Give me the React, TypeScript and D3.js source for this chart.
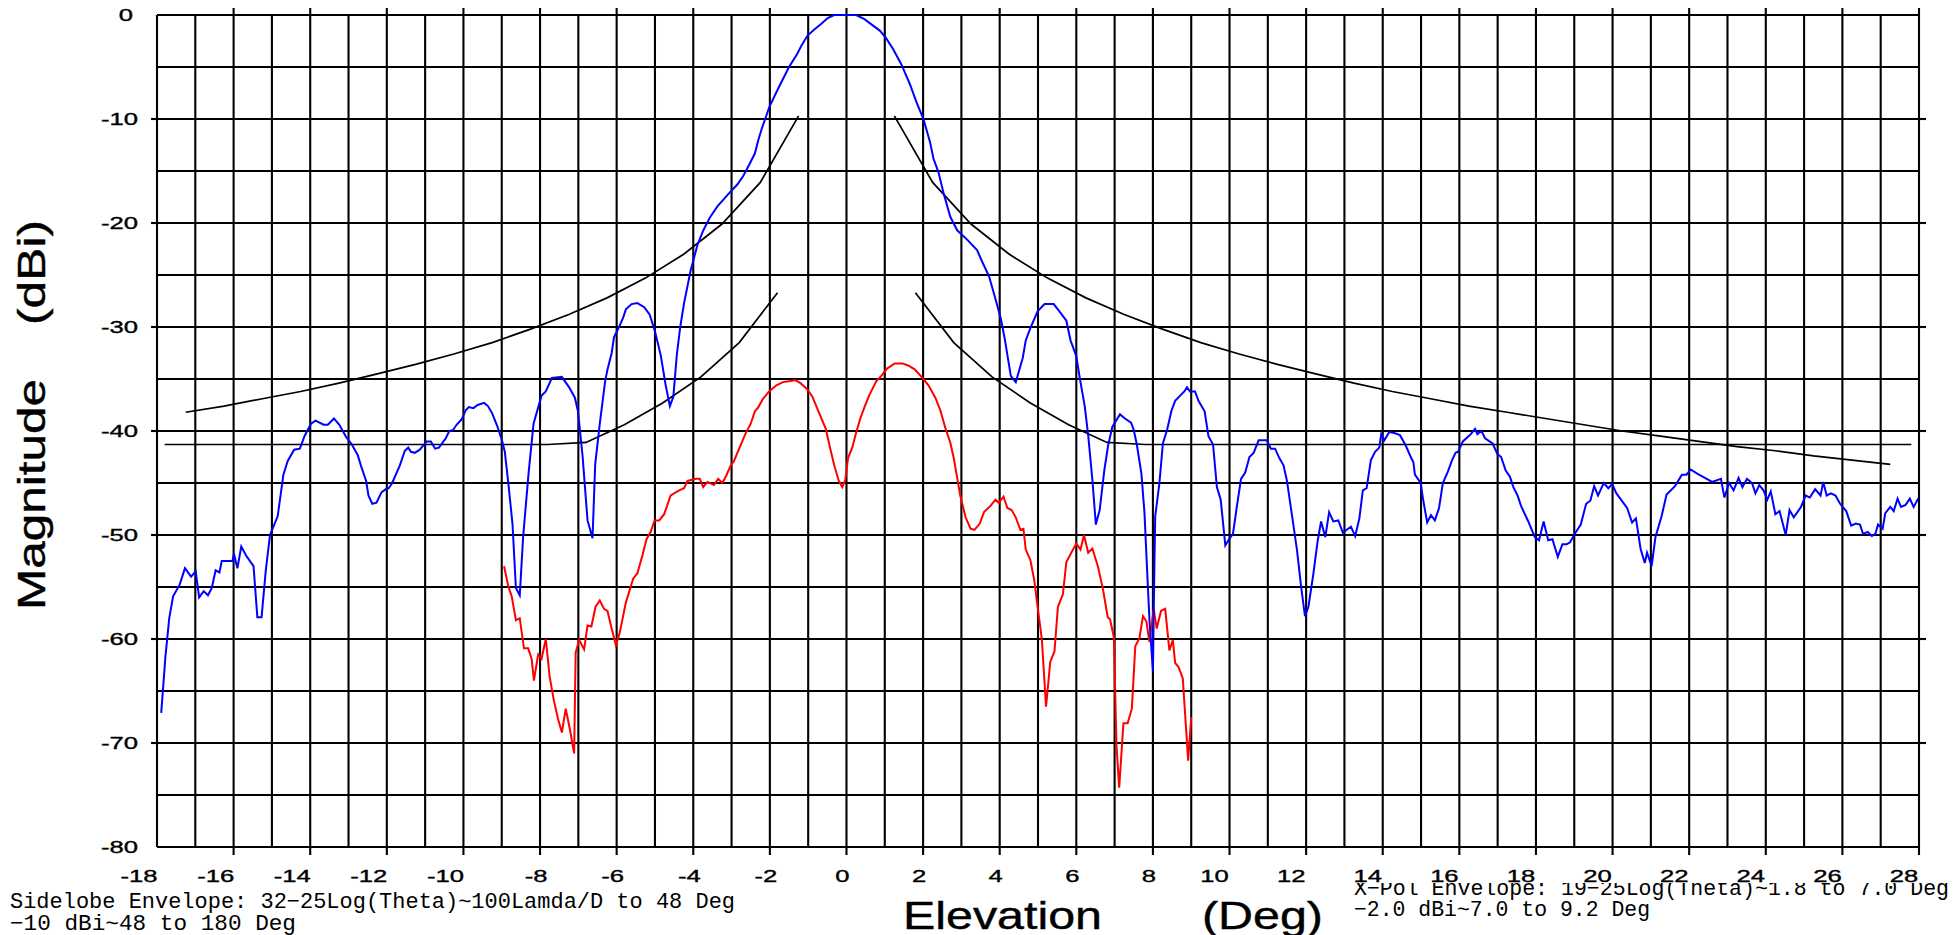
import * as d3 from 'd3';

const W = 1953;
const H = 935;

const xTicks = d3.range(-18, 29, 2);
const yTicks = d3.range(0, -81, -10);

// co-polar pattern (blue) [deg, dB]
const coPol: [number, number][] = [
  [-17.89, -67.1], [-17.78, -61.7], [-17.68, -58.0], [-17.58, -55.9], [-17.41, -54.8], [-17.27, -53.2],
  [-17.11, -54.0], [-16.99, -53.5], [-16.9, -56.0], [-16.78, -55.4], [-16.67, -55.8], [-16.57, -55.1],
  [-16.47, -53.4], [-16.37, -53.6], [-16.31, -52.5], [-16.03, -52.5], [-15.99, -51.8], [-15.9, -53.2],
  [-15.8, -51.1], [-15.67, -52.0], [-15.48, -53.0], [-15.38, -57.9], [-15.27, -57.9], [-15.16, -53.4],
  [-15.05, -50.0], [-14.85, -48.2], [-14.7, -44.2], [-14.59, -42.9], [-14.42, -41.8], [-14.27, -41.7],
  [-14.15, -40.5], [-13.98, -39.3], [-13.86, -39.0], [-13.65, -39.4], [-13.54, -39.4], [-13.38, -38.8],
  [-13.24, -39.4], [-13.06, -40.6], [-12.93, -41.2], [-12.76, -42.3], [-12.67, -43.4], [-12.54, -44.8],
  [-12.48, -46.2], [-12.38, -47.0], [-12.27, -46.9], [-12.14, -45.9], [-12.03, -45.6], [-11.95, -45.5],
  [-11.86, -45.0], [-11.66, -43.3], [-11.53, -41.9], [-11.44, -41.6], [-11.37, -42.0], [-11.27, -42.1],
  [-11.14, -41.8], [-10.96, -41.0], [-10.85, -41.0], [-10.74, -41.7], [-10.64, -41.6], [-10.46, -40.7],
  [-10.37, -40.0], [-10.27, -39.9], [-10.18, -39.4], [-10.05, -38.9], [-9.94, -38.0], [-9.86, -37.7],
  [-9.74, -37.8], [-9.63, -37.5], [-9.46, -37.3], [-9.36, -37.6], [-9.25, -38.3], [-9.12, -39.5],
  [-9.0, -40.8], [-8.92, -42.0], [-8.82, -45.3], [-8.72, -48.9], [-8.63, -55.1], [-8.53, -55.8],
  [-8.44, -50.1], [-8.3, -44.1], [-8.17, -39.3], [-7.96, -36.6], [-7.85, -36.2], [-7.69, -34.9],
  [-7.43, -34.8], [-7.24, -35.8], [-7.09, -36.8], [-7.01, -38.1], [-6.89, -42.4], [-6.76, -48.6],
  [-6.63, -50.3], [-6.56, -43.2], [-6.44, -39.3], [-6.3, -35.2], [-6.24, -34.1], [-6.13, -32.5],
  [-6.07, -31.0], [-5.95, -30.1], [-5.83, -29.1], [-5.76, -28.3], [-5.61, -27.8], [-5.46, -27.7],
  [-5.28, -28.1], [-5.14, -28.8], [-5.0, -30.4], [-4.85, -32.7], [-4.72, -35.6], [-4.61, -37.6],
  [-4.52, -36.7], [-4.43, -32.7], [-4.34, -30.0], [-4.24, -27.7], [-4.07, -24.6], [-3.89, -22.1],
  [-3.75, -20.8], [-3.57, -19.5], [-3.37, -18.4], [-3.08, -17.2], [-2.85, -16.3], [-2.7, -15.5],
  [-2.54, -14.4], [-2.39, -13.3], [-2.3, -12.0], [-2.2, -10.8], [-2.01, -8.8], [-1.76, -6.9],
  [-1.5, -5.0], [-1.28, -3.7], [-1.17, -2.9], [-1.02, -2.0], [-0.84, -1.4], [-0.67, -0.9],
  [-0.49, -0.3], [-0.32, 0], [0.25, 0], [0.47, -0.4], [0.65, -0.9], [0.87, -1.5], [1.03, -2.2],
  [1.22, -3.3], [1.44, -4.8], [1.66, -6.7], [1.83, -8.4], [2.01, -10.0], [2.18, -12.2], [2.27, -13.8],
  [2.4, -15.1], [2.54, -17.2], [2.71, -19.4], [2.89, -20.7], [3.15, -21.6], [3.41, -22.6], [3.54, -23.7],
  [3.72, -25.1], [3.89, -27.3], [4.03, -29.2], [4.13, -31.1], [4.29, -34.7], [4.42, -35.3], [4.6, -33.0],
  [4.68, -31.3], [4.8, -30.1], [4.99, -28.5], [5.17, -27.8], [5.41, -27.8], [5.56, -28.5], [5.74, -29.4],
  [5.85, -31.3], [6.0, -32.8], [6.09, -34.9], [6.22, -37.6], [6.31, -40.4], [6.42, -44.7], [6.51, -49.0],
  [6.61, -47.6], [6.73, -43.8], [6.83, -41.4], [6.94, -39.6], [7.14, -38.4], [7.27, -38.8], [7.43, -39.2],
  [7.5, -39.9], [7.58, -41.3], [7.7, -44.1], [7.78, -47.9], [7.84, -52.7], [7.91, -58.2], [8.0, -63.1],
  [8.04, -52.7], [8.06, -48.2], [8.17, -45.0], [8.26, -41.2], [8.37, -39.9], [8.48, -38.1], [8.58, -37.1],
  [8.71, -36.6], [8.82, -36.2], [8.89, -35.8], [8.97, -36.2], [9.1, -36.2], [9.19, -37.1], [9.35, -38.1],
  [9.45, -40.5], [9.57, -41.3], [9.67, -45.4], [9.77, -46.6], [9.89, -51.0], [9.97, -50.5], [10.09, -49.9],
  [10.19, -47.3], [10.3, -44.6], [10.41, -44.0], [10.52, -42.5], [10.63, -42.1], [10.76, -40.9],
  [10.97, -40.9], [11.08, -41.7], [11.19, -41.7], [11.3, -42.6], [11.41, -43.3], [11.5, -44.8],
  [11.65, -48.6], [11.76, -51.4], [11.87, -55.0], [11.97, -57.8], [12.06, -56.9], [12.19, -53.7],
  [12.3, -50.6], [12.39, -48.7], [12.5, -50.2], [12.6, -47.8], [12.71, -48.7], [12.84, -48.6],
  [12.96, -49.8], [13.06, -49.5], [13.17, -49.2], [13.28, -50.1], [13.39, -48.4], [13.48, -45.7],
  [13.58, -45.5], [13.69, -42.8], [13.8, -42.0], [13.91, -41.6], [13.96, -40.3], [14.04, -40.9],
  [14.17, -40.1], [14.3, -40.2], [14.45, -40.4], [14.6, -41.4], [14.72, -42.4], [14.8, -43.0],
  [14.84, -44.2], [14.99, -45.0], [15.05, -46.5], [15.16, -48.8], [15.26, -48.1], [15.36, -48.6],
  [15.47, -47.4], [15.57, -45.0], [15.7, -43.9], [15.81, -42.8], [15.9, -42.1], [15.97, -42.0],
  [16.09, -41.0], [16.3, -40.3], [16.41, -39.8], [16.47, -40.3], [16.58, -40.0], [16.67, -40.7],
  [16.87, -41.2], [16.99, -42.2], [17.09, -42.5], [17.21, -43.8], [17.32, -44.4], [17.41, -45.4],
  [17.52, -46.2], [17.61, -47.2], [17.8, -48.7], [17.97, -50.2], [18.08, -50.5], [18.2, -48.7],
  [18.32, -50.5], [18.43, -50.4], [18.57, -52.1], [18.69, -50.9], [18.8, -50.9], [18.89, -50.7],
  [19.01, -49.9], [19.17, -49.0], [19.31, -47.0], [19.42, -46.7], [19.52, -45.3], [19.62, -46.2],
  [19.77, -45.0], [19.89, -45.5], [19.99, -45.1], [20.1, -46.0], [20.38, -47.4], [20.51, -48.8],
  [20.61, -48.4], [20.73, -51.3], [20.84, -52.7], [20.9, -51.7], [21.02, -53.0], [21.12, -50.2],
  [21.28, -48.2], [21.41, -46.1], [21.63, -45.3], [21.81, -44.2], [21.93, -44.2], [22.04, -43.7],
  [22.21, -44.1], [22.41, -44.5], [22.6, -44.9], [22.83, -44.6], [22.92, -46.4], [23.04, -45.0],
  [23.16, -45.7], [23.29, -44.5], [23.39, -45.4], [23.51, -44.6], [23.64, -45.0], [23.73, -46.0],
  [23.83, -45.2], [23.94, -45.7], [24.04, -46.6], [24.13, -45.8], [24.25, -48.0], [24.36, -47.7],
  [24.52, -50.0], [24.62, -47.6], [24.73, -48.3], [24.92, -47.3], [25.04, -46.2], [25.15, -46.4],
  [25.29, -45.6], [25.43, -46.2], [25.5, -44.9], [25.59, -46.2], [25.7, -46.0], [25.82, -46.2],
  [25.94, -47.0], [26.1, -47.7], [26.23, -49.1], [26.35, -48.9], [26.46, -49.0], [26.54, -49.9],
  [26.66, -49.7], [26.77, -50.1], [26.86, -49.9], [26.93, -49.0], [27.05, -49.4], [27.12, -47.9],
  [27.25, -47.3], [27.34, -47.7], [27.44, -46.5], [27.53, -47.3], [27.65, -47.1], [27.76, -46.5],
  [27.86, -47.3], [27.98, -46.5],
];

// cross-polar pattern (red) [deg, dB]
const crossPol: [number, number][] = [
  [-8.94, -53.0], [-8.83, -54.9], [-8.74, -55.9], [-8.63, -58.2], [-8.53, -58.0], [-8.42, -60.9],
  [-8.31, -60.9], [-8.22, -61.9], [-8.16, -64.0], [-8.05, -61.5], [-7.96, -61.9], [-7.85, -60.0],
  [-7.75, -63.6], [-7.64, -65.9], [-7.53, -67.7], [-7.43, -69.0], [-7.33, -66.7], [-7.22, -68.7],
  [-7.11, -71.0], [-7.07, -61.3], [-6.98, -60.1], [-6.85, -61.0], [-6.76, -58.7], [-6.66, -58.8],
  [-6.55, -56.9], [-6.44, -56.3], [-6.33, -57.1], [-6.24, -57.3], [-6.13, -59.0], [-6.02, -60.6],
  [-5.92, -59.4], [-5.76, -56.5], [-5.57, -54.2], [-5.46, -53.7], [-5.33, -52.0], [-5.22, -50.4],
  [-5.11, -49.7], [-5.01, -48.6], [-4.89, -48.6], [-4.76, -48.0], [-4.59, -46.2], [-4.37, -45.7],
  [-4.24, -45.5], [-4.15, -44.8], [-3.93, -44.6], [-3.83, -44.6], [-3.74, -45.4], [-3.63, -44.9],
  [-3.46, -45.2], [-3.35, -44.6], [-3.24, -45.0], [-3.14, -44.3], [-3.02, -43.3], [-2.94, -42.9],
  [-2.79, -41.6], [-2.63, -40.2], [-2.5, -39.3], [-2.39, -38.1], [-2.3, -37.7], [-2.18, -36.9],
  [-2.02, -36.2], [-1.83, -35.6], [-1.66, -35.3], [-1.46, -35.2], [-1.34, -35.1], [-1.2, -35.4],
  [-1.02, -36.0], [-0.89, -36.7], [-0.71, -38.3], [-0.54, -39.8], [-0.43, -41.6], [-0.32, -43.3],
  [-0.2, -44.8], [-0.11, -45.4], [-0.03, -44.7], [0.04, -42.6], [0.15, -41.6], [0.25, -40.2],
  [0.36, -38.8], [0.47, -37.7], [0.59, -36.6], [0.78, -35.2], [0.91, -34.7], [1.06, -34.0],
  [1.26, -33.5], [1.46, -33.5], [1.61, -33.7], [1.79, -34.1], [1.96, -34.8], [2.14, -35.6],
  [2.32, -36.8], [2.45, -38.0], [2.58, -39.7], [2.71, -41.1], [2.8, -42.6], [2.89, -44.5],
  [2.97, -46.2], [3.11, -48.3], [3.24, -49.4], [3.34, -49.5], [3.48, -48.9], [3.59, -47.8],
  [3.76, -47.2], [3.89, -46.6], [3.98, -46.9], [4.1, -46.3], [4.2, -47.4], [4.31, -47.6],
  [4.42, -48.3], [4.54, -49.5], [4.62, -49.4], [4.68, -51.4], [4.8, -52.4], [4.9, -54.3],
  [4.99, -56.9], [5.1, -60.0], [5.21, -66.5], [5.32, -62.2], [5.43, -61.2], [5.52, -56.9],
  [5.65, -55.7], [5.74, -52.6], [5.87, -51.7], [6.0, -50.8], [6.11, -51.4], [6.2, -50.0],
  [6.31, -51.7], [6.42, -51.3], [6.57, -53.1], [6.7, -55.3], [6.82, -57.9], [6.88, -58.1],
  [6.98, -59.8], [7.05, -70.3], [7.12, -74.3], [7.23, -68.1], [7.34, -68.1], [7.45, -66.7],
  [7.54, -60.7], [7.65, -59.9], [7.74, -57.8], [7.83, -58.3], [7.91, -60.3], [8.02, -57.1],
  [8.1, -59.0], [8.21, -57.3], [8.32, -57.1], [8.43, -61.1], [8.52, -60.1], [8.58, -62.3],
  [8.67, -62.7], [8.78, -63.8], [8.92, -71.7], [9.0, -67.5],
];

// sidelobe envelope (upper black lines)
const sidelobeEnvLeft: [number, number][] = [
  [-17.25, -38.2], [-16.25, -37.6], [-15.25, -36.9], [-14.25, -36.2], [-13.25, -35.4], [-12.25, -34.5],
  [-11.25, -33.6], [-10.25, -32.6], [-9.25, -31.5], [-8.25, -30.2], [-7.25, -28.8], [-6.25, -27.2],
  [-5.25, -25.3], [-4.25, -23.0], [-3.25, -20.1], [-2.25, -16.1], [-1.25, -9.7],
];
const sidelobeEnvRight: [number, number][] = [
  [1.25, -9.7], [2.25, -16.1], [3.25, -20.1], [4.25, -23.0], [5.25, -25.3], [6.25, -27.2],
  [7.25, -28.8], [8.25, -30.2], [9.25, -31.5], [10.25, -32.6], [11.25, -33.6], [12.25, -34.5],
  [13.25, -35.4], [14.25, -36.2], [15.25, -36.9], [16.25, -37.6], [17.25, -38.2], [18.25, -38.8],
  [19.25, -39.4], [20.25, -40.0], [21.25, -40.5], [22.25, -41.0], [23.25, -41.5], [24.25, -41.9],
  [25.25, -42.4], [26.25, -42.8], [27.25, -43.2],
];

// x-pol envelope (lower black lines)
const xpolEnvLeft: [number, number][] = [
  [-17.8, -41.3], [-7.8, -41.3], [-6.8, -41.1], [-5.8, -39.4], [-4.8, -37.3], [-3.8, -34.8],
  [-2.8, -31.5], [-1.8, -26.7],
];
const xpolEnvRight: [number, number][] = [
  [1.8, -26.7], [2.8, -31.5], [3.8, -34.8], [4.8, -37.3], [5.8, -39.4], [6.8, -41.1],
  [7.8, -41.3], [27.8, -41.3],
];

const sidelobeNote = ['Sidelobe Envelope: 32\u221225Log(Theta)~100Lamda/D to 48 Deg', '\u221210 dBi~48 to 180 Deg'];
const xpolNote = ['X\u2212Pol Envelope: 19\u221225Log(Theta)~1.8 to 7.0 Deg', '\u22122.0 dBi~7.0 to 9.2 Deg'];

const SANS = '"Liberation Sans", Arial, sans-serif';
const MONO = '"Liberation Mono", "DejaVu Sans Mono", monospace';

export default function App() {
  const x = d3.scaleLinear().domain([-18, 28]).range([157, 1919]);
  const y = d3.scaleLinear().domain([0, -80]).range([15, 847]);
  const line = d3.line<[number, number]>().x((d) => x(d[0])).y((d) => y(d[1]));

  const [x0, x1] = x.range();
  const [y0, y1] = y.range();

  return (
    <svg width={W} height={H} style={{ position: 'absolute', left: 0, top: 0, background: '#fff' }}>
      <defs>
        <clipPath id="xpol-clip">
          <rect x={1300} y={883} width={660} height={60} />
        </clipPath>
      </defs>

      {/* grid */}
      <g stroke="#000" strokeWidth={2.1}>
        {d3.range(-18, 29, 1).map((t) => (
          <line key={'v' + t} x1={x(t)} x2={x(t)} y1={y0} y2={y1} />
        ))}
        {d3.range(0, -81, -5).map((v) => (
          <line key={'h' + v} x1={x0} x2={x1} y1={y(v)} y2={y(v)} />
        ))}
        {xTicks.filter((t) => t > -18).map((t) => (
          <g key={'xt' + t}>
            <line x1={x(t)} x2={x(t)} y1={y0 - 7} y2={y0} />
            <line x1={x(t)} x2={x(t)} y1={y1} y2={y1 + 8} />
          </g>
        ))}
        {yTicks.filter((v) => v < 0 && v > -80).map((v) => (
          <g key={'yt' + v}>
            <line x1={x0 - 6} x2={x0} y1={y(v)} y2={y(v)} />
            <line x1={x1} x2={x1 + 7} y1={y(v)} y2={y(v)} />
          </g>
        ))}
      </g>

      {/* envelopes */}
      <g fill="none" stroke="#000" strokeWidth={1.7}>
        {[sidelobeEnvLeft, sidelobeEnvRight, xpolEnvLeft, xpolEnvRight].map((d, i) => (
          <path key={i} d={line(d) ?? ''} />
        ))}
      </g>

      <path d={line(crossPol) ?? ''} fill="none" stroke="#ff0000" strokeWidth={2} />
      <path d={line(coPol) ?? ''} fill="none" stroke="#0000ff" strokeWidth={2} />

      {/* tick labels */}
      <g fontFamily={SANS} fontSize={16} fill="#000" stroke="#000" strokeWidth={0.35}>
        {yTicks.map((v) => (
          <text key={'yl' + v} textAnchor="end" transform={`translate(${v === 0 ? 133 : 138},${y(v) + 6}) scale(1.6,1)`}>
            {v}
          </text>
        ))}
        {xTicks.map((t) => {
          const off = Math.abs(t) < 10 ? -4 : t < 0 ? -18 : -15;
          return (
            <text key={'xl' + t} textAnchor="middle" transform={`translate(${x(t) + off},${882}) scale(1.6,1)`}>
              {t}
            </text>
          );
        })}
      </g>

      {/* axis titles */}
      <g fontFamily={SANS} fontSize={38} fill="#000" stroke="#000" strokeWidth={0.4}>
        <text x={903} y={929} textLength={199} lengthAdjust="spacingAndGlyphs">Elevation</text>
        <text x={1202} y={929} textLength={121} lengthAdjust="spacingAndGlyphs">(Deg)</text>
        <text transform="translate(45,610) rotate(-90)" textLength={231} lengthAdjust="spacingAndGlyphs">Magnitude</text>
        <text transform="translate(45,325) rotate(-90)" textLength={105} lengthAdjust="spacingAndGlyphs">(dBi)</text>
      </g>

      {/* envelope notes */}
      <g fontFamily={MONO} fontSize={21.5} fill="#000">
        <text x={10} y={908} textLength={725} lengthAdjust="spacingAndGlyphs">{sidelobeNote[0]}</text>
        <text x={10} y={930} textLength={286} lengthAdjust="spacingAndGlyphs">{sidelobeNote[1]}</text>
        <text x={1354} y={895} textLength={595} lengthAdjust="spacingAndGlyphs" clipPath="url(#xpol-clip)">{xpolNote[0]}</text>
        <text x={1354} y={916} textLength={296} lengthAdjust="spacingAndGlyphs">{xpolNote[1]}</text>
      </g>
    </svg>
  );
}
